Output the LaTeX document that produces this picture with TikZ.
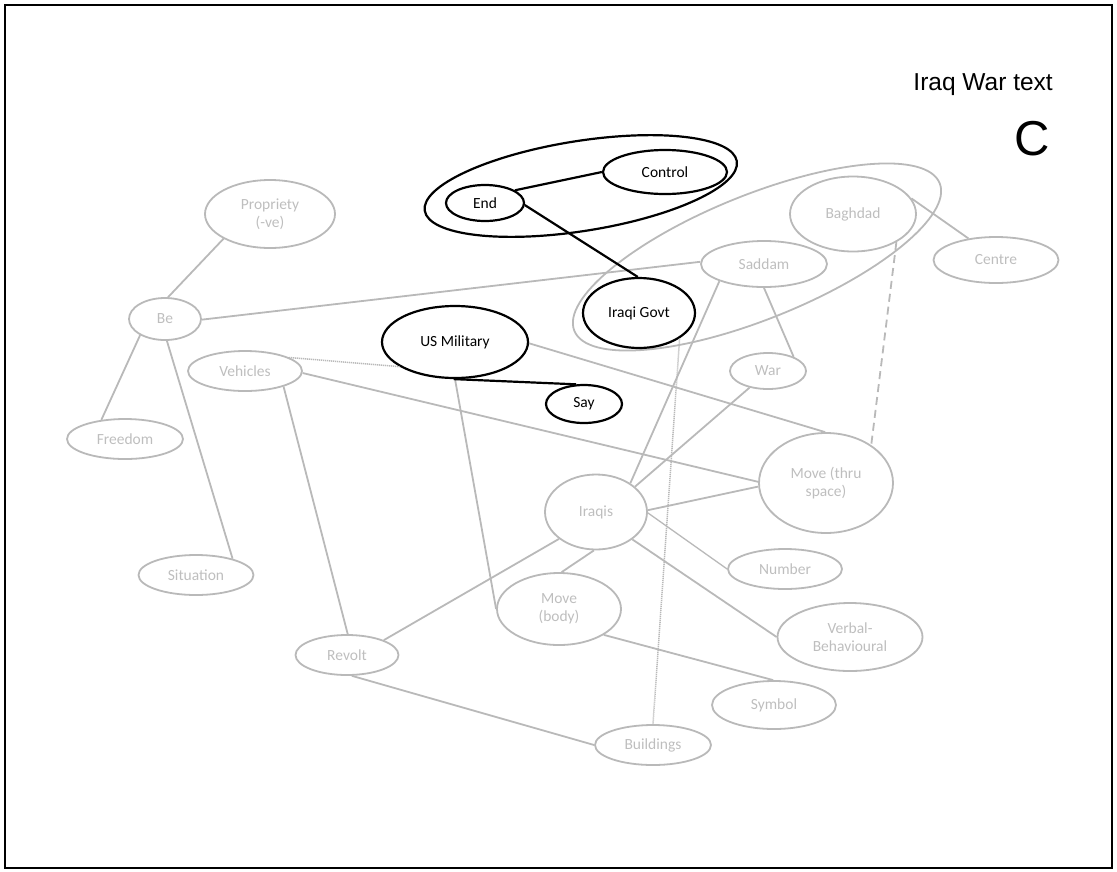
\documentclass[tikz,border=0pt]{standalone}
\usepackage{fontspec}
\setmainfont{Carlito}
\newfontfamily\arialfont{Liberation Sans}
\usetikzlibrary{shapes.geometric}
\definecolor{lg}{RGB}{185,185,185}
\definecolor{lgt}{RGB}{190,190,190}
\begin{document}
\begin{tikzpicture}[x=1pt,y=-1pt,
  sz/.style 2 args={minimum width=#1pt, minimum height=#2pt},
  gn/.style={ellipse, draw=lg, line width=1.8pt, text=lgt, inner sep=0pt, align=center, font=\fontsize{15.5}{18.5}\selectfont},
  bn/.style={ellipse, draw=black, line width=2.2pt, text=black, inner sep=0pt, align=center, font=\fontsize{15.5}{18.5}\selectfont},
  gl/.style={draw=lg, line width=1.8pt},
  thl/.style={draw=lg, line width=1.3pt},
  bl/.style={draw=black, line width=2.2pt},
  dl/.style={draw=lg, line width=1.5pt, dash pattern=on 1.2pt off 0.8pt},
  dsl/.style={draw=lg, line width=1.8pt, dash pattern=on 8pt off 5pt}]
\useasboundingbox (0,0) rectangle (1117,871);
\draw[line width=2pt] (5,5) rectangle (1111.5,868);

% title
\node[anchor=base east, inner sep=0pt, font=\arialfont\fontsize{24.5}{28}\selectfont] (title) at (1053,90.7) {Iraq War text};
\node[anchor=base east, inner sep=0pt, font=\arialfont\fontsize{49}{56}\selectfont] (letter) at (1050,155) {C};

% group ellipses
\draw[gl, rotate around={22:(757,257)}] (757,257) ellipse [x radius=197pt, y radius=62pt];
\draw[bl, rotate around={9:(580.8,186)}] (580.8,186) ellipse [x radius=158pt, y radius=45pt];

% gray nodes
\node[gn, sz={130}{68}] (prop) at (270,214) {Propriety\\(-ve)};
\node[gn, sz={72}{42}] (be) at (165,319) {Be};
\node[gn, sz={114}{40}] (veh) at (245,371) {Vehicles};
\node[gn, sz={116}{40}] (free) at (125,439) {Freedom};
\node[gn, sz={115}{40}] (sit) at (196,575) {Situation};
\node[gn, sz={126}{46}] (sad) at (764,264) {Saddam};
\node[gn, sz={126}{75}] (bag) at (853,214) {Baghdad};
\node[gn, sz={125}{46}] (cen) at (996,260) {Centre};
\node[gn, sz={76}{36}] (war) at (768,371) {War};
\node[gn, sz={134}{100}] (mts) at (826,483) {Move (thru\\space)};
\node[gn, sz={102}{75}] (iraqis) at (596,512) {Iraqis};
\node[gn, sz={114}{40}] (num) at (785,569) {Number};
\node[gn, sz={145}{68}] (verb) at (850,637) {Verbal-\\Behavioural};
\node[gn, sz={124}{72}] (mb) at (559,609) {Move\\(body)};
\node[gn, sz={103}{40}] (rev) at (347,655) {Revolt};
\node[gn, sz={116}{40}] (bld) at (653,745) {Buildings};
\node[gn, sz={124}{48}] (sym) at (774,705) {Symbol};

% black nodes
\node[bn, sz={124}{44}] (ctrl) at (665,172) {Control};
\node[bn, sz={78}{36}] (endn) at (485,203) {End};
\node[bn, sz={112}{70}] (ig) at (639,313) {Iraqi Govt};
\node[bn, sz={146}{72}] (usm) at (455,342) {US Military};
\node[bn, sz={76}{38}] (say) at (584,404) {Say};

% gray connectors
\draw[gl] (prop.208) -- (be.82);
\draw[gl] (be.-1) -- (sad.178);
\draw[gl] (be.213) -- (free.141);
\draw[gl] (be.-85) -- (sit.24);
\draw[dl] (veh.17) -- (usm.204);
\draw[gl] (veh.-2) -- (mts.179);
\draw[gl] (veh.-22) -- (rev.88);
\draw[gl] (usm.-1) -- (mts.91);
\draw[gl] (usm.-90) -- (mb.180);
\draw[dl] (ig.-32) -- (bld.90);
\draw[gl] (sad.-90) -- (war.29);
\draw[gl] (sad.201) -- (iraqis.40);
\draw[gl] (war.-138) -- (iraqis.33);
\draw[gl] (bag.15) -- (cen.142);
\draw[dsl] (bag.-33) -- (mts.40);
\draw[gl] (iraqis.2) -- (mts.183);
\draw[thl] (iraqis.-1) -- (num.180);
\draw[gl] (iraqis.-37) -- (verb.180);
\draw[gl] (iraqis.-93) -- (mb.86);
\draw[gl] (iraqis.216) -- (rev.22);
\draw[gl] (mb.-30) -- (sym.92);
\draw[gl] (rev.-77) -- (bld.180);

% black connectors
\draw[bl] (endn.23) -- (ctrl.180);
\draw[bl] (endn.-3) -- (ig.92);
\draw[bl] (usm.-92) -- (say.112);
\end{tikzpicture}
\end{document}
